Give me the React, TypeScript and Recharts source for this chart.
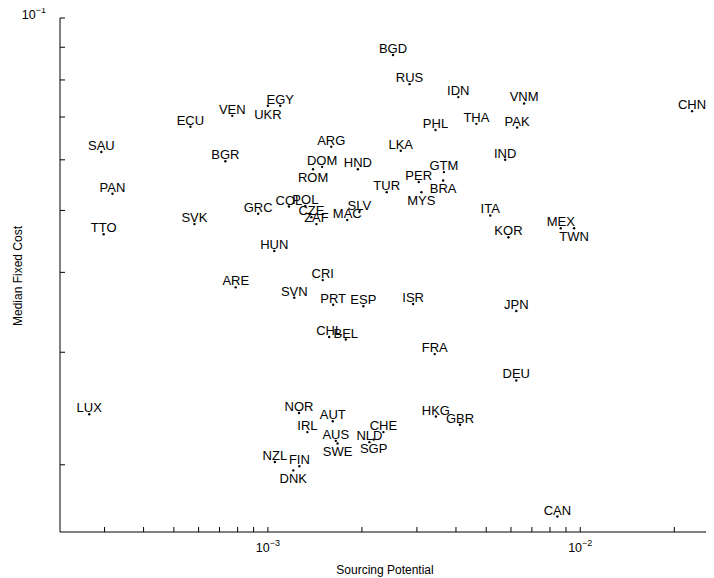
import React from "react";
import { ScatterChart, Scatter, XAxis, YAxis } from "recharts";

const codes = ["SAU","PAN","TTO","LUX","ECU","VEN","EGY","UKR","BGR","ARG","DOM","ROM","HND","LKA","TUR","GRC","COL","POL","CZE","ZAF","MAC","SLV","SVK","HUN","BGD","RUS","IDN","VNM","THA","PAK","PHL","IND","GTM","PER","BRA","MYS","ITA","KOR","MEX","TWN","CHN","ARE","CRI","SVN","PRT","ESP","ISR","CHL","BEL","FRA","JPN","DEU","NOR","AUT","IRL","AUS","SWE","NLD","CHE","SGP","NZL","FIN","DNK","HKG","GBR","CAN"];
const sourcing = [2.93e-4,3.18e-4,2.98e-4,2.68e-4,5.65e-4,7.69e-4,1.095e-3,1.0e-3,7.31e-4,1.595e-3,1.491e-3,1.395e-3,1.941e-3,2.663e-3,2.401e-3,9.31e-4,1.168e-3,1.318e-3,1.378e-3,1.43e-3,1.795e-3,1.962e-3,5.82e-4,1.048e-3,2.515e-3,2.841e-3,4.07e-3,6.61e-3,4.65e-3,6.28e-3,3.44e-3,5.75e-3,3.66e-3,3.04e-3,3.64e-3,3.1e-3,5.15e-3,5.89e-3,8.66e-3,9.56e-3,2.28e-2,7.89e-4,1.498e-3,1.215e-3,1.618e-3,2.021e-3,2.917e-3,1.571e-3,1.776e-3,3.42e-3,6.24e-3,6.24e-3,1.258e-3,1.613e-3,1.338e-3,1.65e-3,1.671e-3,2.113e-3,2.343e-3,2.181e-3,1.053e-3,1.261e-3,1.206e-3,3.45e-3,4.12e-3,8.45e-3];
const fixedCost = [6.17e-2,5.31e-2,4.59e-2,2.4e-2,6.76e-2,7.03e-2,7.29e-2,7.29e-2,5.97e-2,6.29e-2,5.85e-2,5.8e-2,5.8e-2,6.2e-2,5.34e-2,4.94e-2,5.07e-2,5.08e-2,4.88e-2,4.76e-2,4.83e-2,4.97e-2,4.76e-2,4.32e-2,8.75e-2,7.88e-2,7.52e-2,7.35e-2,6.83e-2,6.74e-2,6.68e-2,6.0e-2,5.74e-2,5.54e-2,5.57e-2,5.34e-2,4.91e-2,4.54e-2,4.69e-2,4.69e-2,7.15e-2,3.79e-2,3.89e-2,3.65e-2,3.56e-2,3.54e-2,3.57e-2,3.17e-2,3.14e-2,2.98e-2,3.48e-2,2.71e-2,2.41e-2,2.34e-2,2.25e-2,2.18e-2,2.16e-2,2.17e-2,2.25e-2,2.19e-2,2.02e-2,1.99e-2,1.96e-2,2.38e-2,2.31e-2,1.66e-2];
const labelsBelow = ["UKR","ROM","BRA","MYS","TWN","SWE","SGP","DNK"];

const xTicks = [3e-4,4e-4,5e-4,6e-4,7e-4,8e-4,9e-4,1e-3,2e-3,3e-3,4e-3,5e-3,6e-3,7e-3,8e-3,9e-3,1e-2,2e-2];
const yTicks = [0.02,0.03,0.04,0.05,0.06,0.07,0.08,0.09,0.1];
const xTickLabels: Record<string,string> = { "0.001": "−3", "0.01": "−2" };
const yTickLabels: Record<string,string> = { "0.1": "−1" };

const data = codes.map((c, i) => ({ code: c, x: sourcing[i], y: fixedCost[i] }));
const FONT = "'Liberation Sans', Arial, sans-serif";

const XTick = (p: any) => {
  const lab = xTickLabels[String(p.payload.value)];
  return (
    <g>
      <line x1={p.x} x2={p.x} y1={p.y} y2={p.y - 5} stroke="#000" />
      {lab && (
        <text x={p.x} y={p.y + 20} textAnchor="middle" fontFamily={FONT} fontSize={12.5} fill="#000">
          10<tspan dy={-6} fontSize={9}>{lab}</tspan>
        </text>
      )}
    </g>
  );
};
const YTick = (p: any) => {
  const lab = yTickLabels[String(p.payload.value)];
  return (
    <g>
      <line x1={p.x} x2={p.x + 5} y1={p.y} y2={p.y} stroke="#000" />
      {lab && (
        <text x={p.x - 14} y={p.y + 1} textAnchor="end" fontFamily={FONT} fontSize={12.5} fill="#000">
          10<tspan dy={-6} fontSize={9}>{lab}</tspan>
        </text>
      )}
    </g>
  );
};

const Dot = (p: any) => {
  const below = labelsBelow.includes(p.payload.code);
  return (
    <g>
      <circle cx={p.cx} cy={p.cy} r={1.2} fill="#000" />
      <text x={p.cx} y={below ? p.cy + 13 : p.cy - 2} textAnchor="middle" fontFamily={FONT} fontSize={13} fill="#000">
        {p.payload.code}
      </text>
    </g>
  );
};

export default function App() {
  return (
    <div style={{ position: "relative", width: 706, height: 570, background: "#fff" }}>
      <ScatterChart width={706} height={570} margin={{ top: 10, right: 0, left: 0, bottom: 0 }}>
        <XAxis type="number" dataKey="x" scale="log" domain={[2.16e-4, 2.68e-2]} allowDataOverflow
          ticks={xTicks} tick={<XTick />} tickLine={false} tickSize={0} tickMargin={0} height={46}
          axisLine={{ stroke: "#000" }} interval={0} />
        <YAxis type="number" dataKey="y" scale="log" domain={[0.0157, 0.1]} allowDataOverflow
          ticks={yTicks} tick={<YTick />} tickLine={false} tickSize={0} tickMargin={0} width={52}
          axisLine={{ stroke: "#000" }} interval={0} />
        <Scatter data={data} shape={<Dot />} isAnimationActive={false} />
        <text x={377} y={566} textAnchor="middle" fontFamily={FONT} fontSize={12} fill="#000">Sourcing Potential</text>
        <text x={14} y={268} textAnchor="middle" fontFamily={FONT} fontSize={12} fill="#000" transform="rotate(-90 14 268)">Median Fixed Cost</text>
      </ScatterChart>
    </div>
  );
}
